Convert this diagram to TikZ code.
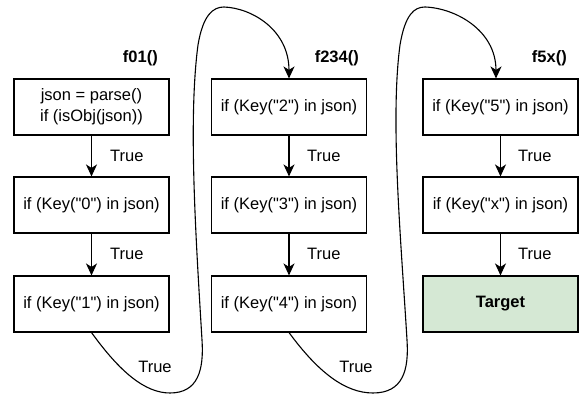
\documentclass[tikz,border=0pt]{standalone}
\usepackage{fontspec}
\setmainfont{Liberation Sans}[Ligatures=TeXOff]
\usetikzlibrary{arrows.meta}
\definecolor{targetfill}{HTML}{D5E8D4}
\tikzset{
  stepbox/.style={draw=black, line width=1.1pt, minimum width=155pt, minimum height=56pt,
    inner sep=0pt, align=center, font=\fontsize{16.5}{21}\selectfont},
  flow/.style={draw=black, line width=1.1pt, -{Stealth[length=12pt,width=11pt,inset=3.5pt]}},
  lbl/.style={font=\fontsize{16.5}{20}\selectfont, inner sep=0pt},
  title/.style={font=\fontsize{16.5}{20}\selectfont\bfseries, inner sep=0pt}
}
\begin{document}
\begin{tikzpicture}[x=1pt,y=-1pt]
\useasboundingbox (0,0) rectangle (582,395);

% column f01()
\node[stepbox] (a1) at (91.5,107) {json = parse()\\if (isObj(json))};
\node[stepbox] (a2) at (91.5,205) {if (Key("0") in json)};
\node[stepbox] (a3) at (91.5,304) {if (Key("1") in json)};
\node[title, anchor=east] (t1) at (158,58) {f01()};

% column f234()
\node[stepbox] (b1) at (289,107) {if (Key("2") in json)};
\node[stepbox] (b2) at (289,205) {if (Key("3") in json)};
\node[stepbox] (b3) at (289,304) {if (Key("4") in json)};
\node[title, anchor=east] (t2) at (359,58) {f234()};

% column f5x()
\node[stepbox] (c1) at (500.5,107) {if (Key("5") in json)};
\node[stepbox] (c2) at (500.5,205) {if (Key("x") in json)};
\node[stepbox, fill=targetfill, font=\fontsize{16.5}{20}\selectfont\bfseries] (c3) at (500.5,304) {Target};
\node[title, anchor=east] (t3) at (567,58) {f5x()};

% straight steps
\draw[flow] (a1) -- (a2);
\draw[flow] (a2) -- (a3);
\draw[flow] (b1) -- (b2);
\draw[flow] (b2) -- (b3);
\draw[flow] (c1) -- (c2);
\draw[flow] (c2) -- (c3);
\node[lbl, anchor=west] (la1) at (110,156) {True};
\node[lbl, anchor=west] (la2) at (110,254) {True};
\node[lbl, anchor=west] (lb1) at (307,156) {True};
\node[lbl, anchor=west] (lb2) at (307,254) {True};
\node[lbl, anchor=west] (lc1) at (518,156) {True};
\node[lbl, anchor=west] (lc2) at (518,254) {True};

% jumps between functions
\draw[flow] (a3.south) .. controls (120,372) and (145,393) .. (170,393)
  .. controls (198,393) and (204,370) .. (202,340)
  .. controls (196,240) and (188,120) .. (198,45)
  .. controls (203,15) and (213,7) .. (224,7)
  .. controls (252,8) and (289,30) .. (b1.north);
\node[lbl] (lj1) at (155,367) {True};

\draw[flow] (b3.south) .. controls (318,372) and (345,393) .. (373,393)
  .. controls (403,393) and (409,370) .. (407,340)
  .. controls (401,240) and (390,120) .. (400,45)
  .. controls (405,15) and (414,7) .. (425,7)
  .. controls (455,8) and (496,30) .. ([xshift=-4.5pt]c1.north);
\node[lbl] (lj2) at (356,367) {True};
\end{tikzpicture}
\end{document}
